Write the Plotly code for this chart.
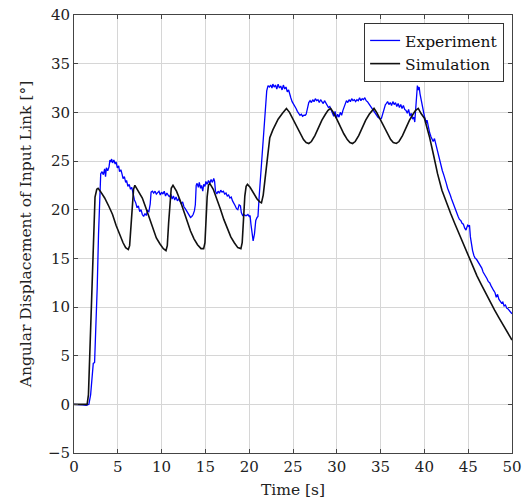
import plotly.graph_objects as go

# Experiment (blue) data
exp_t = [0.0, 0.5, 1.0, 1.4, 1.7, 1.9, 2.1, 2.2, 2.35, 2.5, 2.65, 2.8, 2.95, 3.05, 3.2, 3.35, 3.5, 3.6, 3.7, 3.85,
         4.0, 4.1, 4.2, 4.3, 4.4, 4.55, 4.7, 4.8, 4.95, 5.1, 5.2, 5.35, 5.5, 5.6, 5.75, 5.9, 6.0, 6.15, 6.3, 6.45,
         6.6, 6.75, 6.9, 7.05, 7.2, 7.35, 7.5, 7.65, 7.8, 7.95, 8.1, 8.25, 8.4, 8.55, 8.7, 8.8, 8.95, 9.1, 9.25, 9.4,
         9.55, 9.7, 9.85, 10.0, 10.15, 10.3, 10.45, 10.6, 10.75, 10.9, 11.05, 11.2, 11.35, 11.5, 11.65, 11.8, 11.95,
         12.1, 12.25, 12.4, 12.55, 12.7, 12.85, 13.0, 13.15, 13.3, 13.45, 13.6, 13.75, 13.85, 13.95, 14.05, 14.2,
         14.3, 14.45, 14.55, 14.7, 14.8, 14.95, 15.05, 15.2, 15.35, 15.5, 15.65, 15.8, 15.95, 16.05, 16.15, 16.3,
         16.45, 16.6, 16.75, 16.9, 17.05, 17.2, 17.35, 17.5, 17.65, 17.8, 17.95, 18.1, 18.25, 18.4, 18.55, 18.7,
         18.85, 19.0, 19.1, 19.25, 19.4, 19.55, 19.7, 19.85, 20.0, 20.1, 20.2, 20.35, 20.45, 20.6, 20.75, 20.9,
         21.0, 21.15, 21.3, 21.45, 21.6, 21.75, 21.9, 22.0, 22.15, 22.3, 22.45, 22.6, 22.7, 22.85, 23.0, 23.15,
         23.3, 23.45, 23.6, 23.75, 23.9, 24.05, 24.2, 24.35, 24.5, 24.6, 24.75, 24.9, 25.05, 25.2, 25.35, 25.5,
         25.65, 25.8, 25.95, 26.1, 26.25, 26.4, 26.5, 26.65, 26.8, 26.95, 27.1, 27.25, 27.4, 27.55, 27.7, 27.85,
         28.0, 28.15, 28.3, 28.45, 28.6, 28.75, 28.9, 29.05, 29.2, 29.35, 29.5, 29.65, 29.8, 29.95, 30.1, 30.25,
         30.4, 30.55, 30.7, 30.85, 31.0, 31.1, 31.25, 31.4, 31.55, 31.7, 31.85, 32.0, 32.15, 32.3, 32.45, 32.6,
         32.75, 32.9, 33.05, 33.2, 33.35, 33.5, 33.65, 33.8, 33.95, 34.1, 34.25, 34.4, 34.55, 34.7, 34.85, 35.0,
         35.1, 35.25, 35.4, 35.55, 35.65, 35.8, 35.95, 36.1, 36.25, 36.4, 36.55, 36.7, 36.85, 37.0, 37.15, 37.3,
         37.45, 37.6, 37.75, 37.9, 38.05, 38.2, 38.35, 38.5, 38.65, 38.8, 38.9, 39.0, 39.1, 39.2, 39.3, 39.4, 39.5,
         39.6, 39.7, 39.8, 39.9, 40.0, 40.1, 40.2, 40.3, 40.45, 40.6, 40.75, 40.9, 41.0, 41.15, 41.3, 41.45, 41.6,
         41.75, 41.9, 42.05, 42.2, 42.35, 42.5, 42.65, 42.8, 42.95, 43.1, 43.25, 43.4, 43.55, 43.7, 43.85, 44.0,
         44.15, 44.3, 44.45, 44.6, 44.75, 44.85, 44.95, 45.05, 45.15, 45.25, 45.35, 45.5, 45.65, 45.8, 45.95, 46.1,
         46.25, 46.4, 46.55, 46.7, 46.85, 47.0, 47.15, 47.3, 47.45, 47.6, 47.75, 47.9, 48.05, 48.2, 48.35, 48.5,
         48.65, 48.8, 48.95, 49.1, 49.25, 49.4, 49.55, 49.7, 49.85, 50.0]
exp_y = [0, 0, -0.05, -0.1, 0, 1.0, 3.0, 4.2, 4.3, 7.3, 12, 17.5, 21.5, 23.7, 23.9, 23.6, 24.2, 23.4, 24.3, 24.0,
         24.4, 25.1, 24.9, 25.2, 24.8, 25.1, 24.7, 24.9, 24.3, 24.5, 23.9, 24.1, 23.6, 23.2, 23.4, 22.8, 23.0, 22.4, 22.6, 22.1,
         22.3, 21.5, 21.0, 20.7, 20.2, 20.4, 19.8, 20.0, 19.5, 19.3, 19.6, 19.4, 19.9, 19.8, 20.6, 21.8, 21.9, 21.7, 21.9, 21.6,
         21.8, 21.9, 21.5, 21.8, 21.6, 21.9, 21.4, 21.7, 21.5, 21.3, 21.6, 21.1, 21.4, 21.0, 21.3, 20.9, 21.1,
         20.8, 20.6, 20.8, 20.3, 20.1, 19.9, 19.6, 19.4, 19.2, 19.3, 19.5, 19.9, 20.5, 22.5, 22.7, 22.3,
         22.8, 22.2, 22.5, 21.9, 22.6, 22.4, 22.9, 22.6, 23.0, 22.7, 23.1, 22.8, 23.2, 22.9, 21.9, 21.6,
         21.9, 21.7, 22.0, 21.8, 21.9, 21.6, 21.7, 21.4, 21.5, 21.2, 21.3, 20.9, 20.7, 20.4, 20.1, 20.0,
         20.5, 20.4, 19.7, 19.4, 19.5, 19.4, 19.4, 19.5, 19.3, 19.4, 18.5, 17.3, 16.8, 17.5, 18.9, 19.2,
         19.3, 21.5, 23.5, 25.0, 27.4, 29.5, 31.5, 32.2, 32.75, 32.6, 32.8, 32.5, 32.9, 32.6, 32.8, 32.4,
         32.9, 32.5, 32.7, 32.3, 32.8, 32.4, 32.6, 32.1, 32.3, 31.9, 31.5, 31.1, 30.9, 30.7, 30.4, 30.1,
         29.9, 29.7, 29.8, 29.6, 29.7, 29.7, 29.8, 30.4, 31.0, 31.2, 31.0, 31.3, 31.1, 31.4, 31.2, 31.3,
         31.0, 31.3, 31.1, 30.9, 31.2, 31.0, 30.8, 30.5, 30.6, 30.2, 29.9, 29.6, 30.1, 29.4, 29.8, 29.5,
         30.0, 29.7, 30.2, 30.6, 31.0, 31.2, 31.0, 31.3, 31.1, 31.4, 31.2, 31.3, 31.1, 31.3, 31.2, 31.5,
         31.2, 31.4, 31.3, 31.5, 31.2, 31.1, 30.9, 30.7, 30.4, 30.2, 30.0, 29.8, 29.7, 29.5, 29.4, 29.3,
         29.4, 29.9, 30.4, 30.8, 30.9, 31.1, 30.8, 31.0, 30.7, 31.1, 30.8, 31.0, 30.6, 30.9, 30.5, 30.8,
         30.4, 30.7, 30.3, 30.2, 29.9, 30.3, 29.6, 29.9, 29.3, 29.5, 29.0, 30.5, 32.0, 32.75, 32.3, 32.6, 31.9,
         31.4, 30.9, 30.2, 30.0, 29.6, 29.3, 28.9, 29.2, 28.4, 27.9, 27.5, 27.2, 27.0, 27.3, 26.7, 26.1, 25.5,
         25.0, 24.6, 24.0, 23.6, 23.0, 22.7, 22.2, 21.9, 21.5, 21.1, 20.7, 20.4, 19.9, 19.6, 19.3, 19.0,
         18.9, 18.6, 18.5, 18.1, 17.9, 18.2, 18.4, 18.3, 18.4, 17.2, 16.5, 15.8, 15.3, 15.0, 14.9, 14.7,
         14.4, 14.2, 14.0, 13.6, 13.4, 13.1, 12.9, 12.6, 12.5, 12.2, 11.9, 11.7, 11.5, 11.0, 11.3, 10.8,
         10.6, 10.4, 10.5, 10.1, 10.2, 9.9, 9.8, 9.6, 9.4, 9.3]

# Simulation (black) data
sim_t = [0, 1.5, 1.65, 1.8, 1.95, 2.1, 2.25, 2.4, 2.6, 2.75, 3.0, 3.5, 4.0, 4.4, 4.8, 5.2, 5.6, 5.9, 6.2, 6.35,
         6.5, 6.65, 6.8, 6.95, 7.3, 7.8, 8.2, 8.6, 9.0, 9.4, 9.8, 10.2, 10.5, 10.65, 10.8, 10.95, 11.1, 11.3,
         11.7, 12.1, 12.5, 12.9, 13.3, 13.7, 14.1, 14.5, 14.8, 14.95, 15.05, 15.2, 15.35, 15.5, 15.9, 16.3,
         16.7, 17.1, 17.5, 17.9, 18.3, 18.7, 19.05, 19.2, 19.35, 19.5, 19.65, 19.8, 20.1, 20.5, 20.9, 21.2,
         21.4, 21.6, 21.8, 22.0, 22.15, 22.35, 22.7, 23.3, 23.8, 24.25, 24.6, 25.0, 25.4, 25.8, 26.2, 26.5,
         26.8, 27.1, 27.5, 27.9, 28.3, 28.7, 29.0, 29.3, 29.6, 30.0, 30.4, 30.8, 31.2, 31.5, 31.8, 32.1,
         32.5, 32.9, 33.3, 33.7, 34.0, 34.25, 34.55, 34.95, 35.35, 35.75, 36.15, 36.45, 36.8, 37.1, 37.5,
         37.9, 38.3, 38.7, 39.0, 39.3, 39.6, 40.0, 40.3, 40.6, 41.0, 41.5, 42.0, 42.5, 43.0, 43.5, 44.0,
         44.5, 45.0, 45.5, 46.0, 46.5, 47.0, 47.5, 48.0, 48.5, 49.0, 49.5, 50.0]
sim_y = [0, 0, 1, 5, 10, 15, 19, 21.3, 22.1, 22.2, 21.9, 21.2, 20.3, 19.5, 18.4, 17.4, 16.6, 16.1, 15.9, 16.3,
         18.5, 20.8, 22.1, 22.5, 22.0, 21.2, 20.2, 19.1, 18.0, 17.1, 16.5, 16.0, 15.8, 16.3, 18.6, 21.0, 22.2, 22.5,
         21.9, 21.0, 19.9, 18.8, 17.8, 17.0, 16.4, 16.0, 16.0, 16.6, 19.0, 21.3, 22.5, 22.7, 22.1, 21.2,
         20.1, 19.0, 18.0, 17.2, 16.6, 16.1, 16.0, 16.6, 19.0, 21.4, 22.4, 22.6, 22.3, 21.7, 21.1, 20.8,
         20.7, 21.5, 23.0, 24.8, 25.7, 27.4, 28.2, 29.3, 29.9, 30.4, 30.0, 29.3, 28.5, 27.8, 27.2, 26.9,
         26.8, 27.0, 27.6, 28.4, 29.2, 29.8, 30.2, 30.4, 30.0, 29.3, 28.5, 27.8, 27.2, 26.9, 26.8, 27.0,
         27.6, 28.4, 29.2, 29.8, 30.2, 30.4, 30.0, 29.3, 28.5, 27.8, 27.2, 26.9, 26.8, 27.0, 27.6,
         28.4, 29.2, 29.8, 30.2, 30.4, 29.9, 29.4, 28.5, 27.4, 25.8, 23.7, 22.0, 20.7, 19.6, 18.5, 17.4,
         16.3, 15.2, 14.2, 13.2, 12.3, 11.4, 10.5, 9.7, 8.9, 8.1, 7.3, 6.6]

x_ticks = [0, 5, 10, 15, 20, 25, 30, 35, 40, 45, 50]
y_ticks = [-5, 0, 5, 10, 15, 20, 25, 30, 35, 40]

FONT = "DejaVu Serif"

fig = go.Figure()
fig.add_trace(go.Scatter(x=exp_t, y=exp_y, mode="lines", name="Experiment",
                         line=dict(color="#0000ff", width=1.3)))
fig.add_trace(go.Scatter(x=sim_t, y=sim_y, mode="lines", name="Simulation",
                         line=dict(color="#111111", width=1.6)))

axis_common = dict(showgrid=True, gridcolor="#d6d6d6", gridwidth=1, automargin=False,
                   showline=True, linecolor="#444444", linewidth=1, mirror="ticks",
                   ticks="inside", ticklen=4, tickcolor="#444444", zeroline=False,
                   tickfont=dict(family=FONT, size=15, color="#222222"))

fig.update_xaxes(range=[0, 50], tickvals=x_ticks,
                 title=dict(text="Time [s]", font=dict(family=FONT, size=15.5, color="#222222"), standoff=9),
                 **axis_common)
fig.update_yaxes(range=[-5, 40], tickvals=y_ticks,
                 title=dict(text="Angular Displacement of Input Link [°]",
                            font=dict(family=FONT, size=15.5, color="#222222"), standoff=12),
                 **axis_common)

fig.update_layout(
    width=523, height=502,
    margin=dict(l=74, r=11, t=15, b=49, autoexpand=False),
    plot_bgcolor="white", paper_bgcolor="white",
    showlegend=True,
    legend=dict(x=0.982, y=0.982, xanchor="right", yanchor="top",
                bgcolor="white", bordercolor="#333333", borderwidth=1,
                font=dict(family=FONT, size=15.5, color="#111111"),
                itemwidth=30, tracegroupgap=0),
)

fig.write_html("out.html", config={"displayModeBar": False},
               post_script="document.body.style.margin='0';document.body.style.padding='0';"
                           "document.body.style.overflow='hidden';")
